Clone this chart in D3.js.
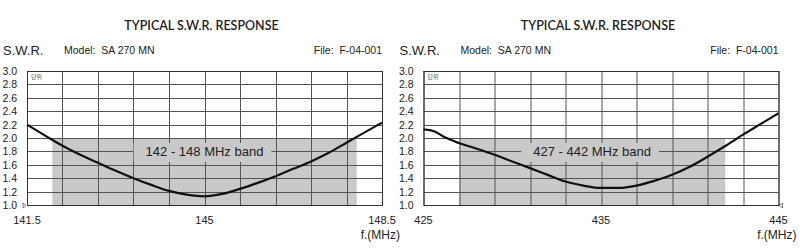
<!DOCTYPE html>
<html>
<head>
<meta charset="utf-8">
<script src="https://cdn.jsdelivr.net/npm/d3@7"></script>
<style>
  body { margin: 0; background: #fff; }
  svg { display: block; }
  text { font-family: "Liberation Sans", Arial, sans-serif; fill: #222; white-space: pre; }
</style>
</head>
<body>
<svg id="chart" width="800" height="251"></svg>
<script>
// data
const titleText = "TYPICAL S.W.R. RESPONSE";
const modelText = "Model:  SA 270 MN";
const fileText = "File:  F-04-001";
const swrTicks = [1.0, 1.2, 1.4, 1.6, 1.8, 2.0, 2.2, 2.4, 2.6, 2.8, 3.0];

const vhfDomain = [141.5, 148.5];
const vhfTicks = [141.5, 145, 148.5];
const vhfBand = [142, 148];
const vhfLabel = "142 - 148 MHz band";
const vhfFreq = [141.5, 141.85, 142.2, 142.55, 142.9, 143.25, 143.6, 143.95, 144.3, 144.65, 145, 145.35, 145.7, 146.05, 146.4, 146.75, 147.1, 147.45, 147.8, 148.15, 148.5];
const vhfSwr = [2.2, 2.04, 1.885, 1.75, 1.63, 1.51, 1.4, 1.3, 1.21, 1.155, 1.13, 1.165, 1.24, 1.33, 1.43, 1.54, 1.65, 1.78, 1.93, 2.08, 2.23];

const uhfDomain = [425, 445];
const uhfTicks = [425, 435, 445];
const uhfBand = [427, 442];
const uhfLabel = "427 - 442 MHz band";
const uhfFreq = [425, 425.6, 426.2, 427, 428, 429, 430, 431, 432, 433, 434, 435, 436, 437, 438, 439, 440, 441, 442, 443, 444, 445];
const uhfSwr = [2.13, 2.1, 2.01, 1.925, 1.84, 1.75, 1.65, 1.55, 1.45, 1.35, 1.29, 1.255, 1.255, 1.29, 1.36, 1.45, 1.57, 1.72, 1.88, 2.05, 2.21, 2.37];

const svg = d3.select("#chart");

const plotW = 355;
const plotTop = 71;
const plotBottom = 205;
const bandFill = "#c9c9c9";
const gridColor = "#555";

const drawPanel = (dx, domain, ticks, band, label, freq, swr, arrowRight) => {
  const g = svg.append("g").attr("transform", `translate(${dx},0)`);
  const left = 27;

  const x = d3.scaleLinear().domain(domain).range([left, left + plotW]);
  const y = d3.scaleLinear().domain([1, 3]).range([plotBottom, plotTop]);

  // title and header line
  g.append("text")
    .attr("x", left + plotW / 2 - 3)
    .attr("y", 30)
    .attr("text-anchor", "middle")
    .style("font-family", "Lato, 'Liberation Sans', sans-serif")
    .style("font-weight", "600")
    .style("font-size", "12.5px")
    .text(titleText);

  g.append("text")
    .attr("x", 3)
    .attr("y", 55)
    .style("font-size", "13px")
    .text("S.W.R.");

  g.append("text")
    .attr("x", 64)
    .attr("y", 54)
    .style("font-size", "10.5px")
    .text(modelText);

  g.append("text")
    .attr("x", left + plotW)
    .attr("y", 54)
    .attr("text-anchor", "end")
    .style("font-size", "10.5px")
    .text(fileText);

  // shaded band
  g.append("rect")
    .attr("x", x(band[0]))
    .attr("y", y(2))
    .attr("width", x(band[1]) - x(band[0]))
    .attr("height", y(1) - y(2))
    .attr("fill", bandFill);

  // grid
  const cols = d3.range(11).map((i) => domain[0] + (i * (domain[1] - domain[0])) / 10);
  g.append("g")
    .selectAll("line")
    .data(cols)
    .join("line")
    .attr("x1", (d) => Math.round(x(d)) + 0.5)
    .attr("x2", (d) => Math.round(x(d)) + 0.5)
    .attr("y1", plotTop)
    .attr("y2", plotBottom)
    .attr("stroke", gridColor)
    .attr("stroke-width", 1);

  g.append("g")
    .selectAll("line")
    .data(swrTicks)
    .join("line")
    .attr("x1", left)
    .attr("x2", left + plotW)
    .attr("y1", (d) => Math.round(y(d)) + 0.5)
    .attr("y2", (d) => Math.round(y(d)) + 0.5)
    .attr("stroke", gridColor)
    .attr("stroke-width", 1);

  g.append("rect")
    .attr("x", left + 0.5)
    .attr("y", plotTop + 0.5)
    .attr("width", plotW)
    .attr("height", plotBottom - plotTop)
    .attr("fill", "none")
    .attr("stroke", "#333");

  // band label with a backing box hiding the grid
  const midF = (band[0] + band[1]) / 2;
  const lbl = g.append("text")
    .attr("x", x(midF))
    .attr("y", 156)
    .attr("text-anchor", "middle")
    .style("font-size", "13px")
    .text(label);
  const bb = lbl.node().getBBox();
  g.insert("rect", () => lbl.node())
    .attr("x", bb.x - 12)
    .attr("y", 143)
    .attr("width", bb.width + 20)
    .attr("height", 19)
    .attr("fill", bandFill);

  // tiny unit mark in the first cell
  g.append("text")
    .attr("x", left + 4)
    .attr("y", 79)
    .style("font-family", "'Noto Sans CJK KR', sans-serif")
    .style("font-size", "6px")
    .style("fill", "#555")
    .text("단위");

  // y tick labels
  g.append("g")
    .selectAll("text")
    .data(swrTicks)
    .join("text")
    .attr("x", 17)
    .attr("y", (d) => y(d) + 4)
    .attr("text-anchor", "end")
    .style("font-size", "10.5px")
    .text((d) => d.toFixed(1));

  // x tick labels
  g.append("g")
    .selectAll("text")
    .data(ticks)
    .join("text")
    .attr("x", (d) => x(d))
    .attr("y", 224)
    .attr("text-anchor", "middle")
    .style("font-size", "11px")
    .text((d) => d);

  g.append("text")
    .attr("x", left + plotW + 18)
    .attr("y", 239)
    .attr("text-anchor", "end")
    .style("font-size", "12px")
    .text("f.(MHz)");

  // small arrow marker on the x axis end
  const ax = arrowRight ? left + plotW : left;
  const ad = arrowRight ? 1 : -1;
  g.append("path")
    .attr("d", `M${ax + ad * 4},${plotBottom - 2}L${ax + ad * 1},${plotBottom + 0.5}L${ax + ad * 4},${plotBottom + 3}Z`)
    .attr("fill", "#fff")
    .attr("stroke", "#444")
    .attr("stroke-width", 0.7);

  // response curve
  const line = d3.line()
    .x((d, i) => x(freq[i]))
    .y((d) => y(d))
    .curve(d3.curveMonotoneX);

  g.append("path")
    .attr("d", line(swr))
    .attr("fill", "none")
    .attr("stroke", "#111")
    .attr("stroke-width", 2.2);
};

drawPanel(0, vhfDomain, vhfTicks, vhfBand, vhfLabel, vhfFreq, vhfSwr, false);
drawPanel(396.5, uhfDomain, uhfTicks, uhfBand, uhfLabel, uhfFreq, uhfSwr, true);
</script>
</body>
</html>
